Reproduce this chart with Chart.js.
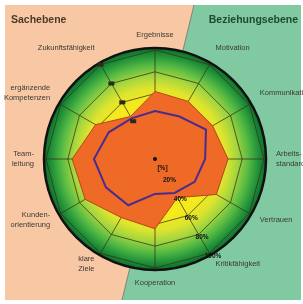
<!DOCTYPE html>
<html>
<head>
<meta charset="utf-8">
<script src="https://cdn.jsdelivr.net/npm/chart.js@4/dist/chart.umd.min.js"></script>
<style>
  html, body { margin: 0; padding: 0; background: #fff; }
  canvas { display: block; }
</style>
</head>
<body>
<canvas id="netz" width="303" height="304"></canvas>
<script>
// Achsen (im Uhrzeigersinn ab oben)
const kriterien = [
    ['Ergebnisse'], ['Motivation'], ['Kommunikation'], ['Arbeits-', 'standards'],
    ['Vertrauen'], ['Kritikfähigkeit'], ['Kooperation'], ['klare', 'Ziele'],
    ['Kunden-', 'orientierung'], ['Team-', 'leitung'], ['ergänzende', 'Kompetenzen'],
    ['Zukunftsfähigkeit']
];
// orange Fläche
const werteFlaeche = [62, 61, 61, 67, 65, 41, 64, 62, 74, 76, 63, 45];
// violette Linie
const werteLinie = [44, 45, 54, 46, 42, 36, 32, 49, 52, 56, 49, 43];
// Skalenbeschriftung
const skalaWerte = [20, 40, 60, 80, 100];
const skalaText = ['20%', '40%', '60%', '80%', '100%'];
const markenWerte = [40, 60, 80, 100];

const hintergrund = {
    id: 'hintergrund',
    beforeDraw(chart) {
        const ctx = chart.ctx;
        const s = chart.scales.r;
        ctx.save();
        ctx.fillStyle = '#ffffff';
        ctx.fillRect(0, 0, chart.width, chart.height);

        // Sachebene / Beziehungsebene
        ctx.fillStyle = '#f8c8a4';
        ctx.beginPath();
        ctx.moveTo(5, 5); ctx.lineTo(194, 5); ctx.lineTo(122, 300); ctx.lineTo(5, 300);
        ctx.closePath(); ctx.fill();
        ctx.fillStyle = '#80c9a1';
        ctx.beginPath();
        ctx.moveTo(194, 5); ctx.lineTo(301, 5); ctx.lineTo(301, 300); ctx.lineTo(122, 300);
        ctx.closePath(); ctx.fill();
        ctx.strokeStyle = '#707064';
        ctx.lineWidth = 0.8;
        ctx.beginPath(); ctx.moveTo(194, 5); ctx.lineTo(122, 300); ctx.stroke();

        ctx.font = 'bold 10.5px "Liberation Sans", Arial, sans-serif';
        ctx.textBaseline = 'middle';
        ctx.textAlign = 'left';
        ctx.fillStyle = '#4a3b2c';
        ctx.fillText('Sachebene', 11, 20);
        ctx.textAlign = 'right';
        ctx.fillStyle = '#1e4a2c';
        ctx.fillText('Beziehungsebene', 298, 20);

        // Kreis mit Farbverlauf
        const R = s.drawingArea + 2;
        const g = ctx.createRadialGradient(s.xCenter, s.yCenter, 0, s.xCenter, s.yCenter, R);
        g.addColorStop(0, '#f7e91a');
        g.addColorStop(0.52, '#f5ea1c');
        g.addColorStop(0.64, '#dfe42e');
        g.addColorStop(0.74, '#a6d63e');
        g.addColorStop(0.84, '#58bb44');
        g.addColorStop(0.93, '#22933a');
        g.addColorStop(1, '#0c6d2b');
        ctx.beginPath();
        ctx.arc(s.xCenter, s.yCenter, R, 0, Math.PI * 2);
        ctx.fillStyle = g;
        ctx.fill();
        ctx.lineWidth = 2.5;
        ctx.strokeStyle = '#111111';
        ctx.stroke();
        ctx.restore();
    },
    afterDraw(chart) {
        const ctx = chart.ctx;
        const s = chart.scales.r;
        ctx.save();

        // Achsenbeschriftung
        ctx.font = '7.5px "Liberation Sans", Arial, sans-serif';
        ctx.fillStyle = '#3a3a34';
        kriterien.forEach((zeilen, i) => {
            const p = s.getPointPosition(i, s.drawingArea + 12);
            const dx = p.x - s.xCenter;
            const dy = p.y - s.yCenter;
            if (Math.abs(dx) < 2) ctx.textAlign = 'center';
            else ctx.textAlign = dx > 0 ? 'left' : 'right';
            const h = 10;
            let y0;
            if (Math.abs(dx) < 2) y0 = dy < 0 ? p.y - (zeilen.length - 1) * h - 3 : p.y + 3;
            else y0 = p.y - (zeilen.length - 1) * h / 2 - (dy < -20 ? 6 : 0);
            ctx.textBaseline = 'middle';
            zeilen.forEach((z, k) => ctx.fillText(z, p.x, y0 + k * h));
        });

        // Prozentwerte entlang Kritikfähigkeit
        ctx.font = 'bold 6.5px "Liberation Sans", Arial, sans-serif';
        ctx.fillStyle = '#111111';
        ctx.textAlign = 'center';
        ctx.textBaseline = 'middle';
        const p0 = s.getPointPosition(5, 11);
        ctx.fillText('[%]', p0.x + 2, p0.y);
        skalaWerte.forEach((v, k) => {
            const p = s.getPointPosition(5, s.getDistanceFromCenterForValue(v) + 3);
            ctx.fillText(skalaText[k], p.x + 2, p.y);
        });
        // Marken entlang Zukunftsfähigkeit
        markenWerte.forEach(v => {
            const p = s.getPointPosition(11, s.getDistanceFromCenterForValue(v));
            ctx.fillStyle = '#2a2a1a';
            ctx.fillRect(p.x - 3, p.y - 2, 6, 4);
        });

        // Mittelpunkt
        ctx.beginPath();
        ctx.arc(s.xCenter, s.yCenter, 2, 0, Math.PI * 2);
        ctx.fillStyle = '#111111';
        ctx.fill();
        ctx.restore();
    }
};

new Chart(document.getElementById('netz'), {
    type: 'radar',
    data: {
        labels: kriterien,
        datasets: [
            {
                data: werteLinie,
                borderColor: '#4b2c8e',
                borderWidth: 2,
                backgroundColor: 'rgba(0,0,0,0)',
                fill: false,
                pointRadius: 0
            },
            {
                data: werteFlaeche,
                borderColor: '#b3471c',
                borderWidth: 1,
                backgroundColor: '#ee6a26',
                fill: true,
                pointRadius: 0
            }
        ]
    },
    options: {
        responsive: false,
        animation: false,
        devicePixelRatio: 1,
        layout: { padding: { left: 46, right: 39, top: 50, bottom: 36 } },
        plugins: {
            legend: { display: false },
            tooltip: { enabled: false }
        },
        elements: { line: { tension: 0 } },
        scales: {
            r: {
                min: 0,
                max: 100,
                z: 1,
                ticks: { display: false, stepSize: 20 },
                grid: { color: 'rgba(55,50,20,0.75)', lineWidth: 1 },
                angleLines: { color: 'rgba(55,50,20,0.75)', lineWidth: 1 },
                pointLabels: { display: false }
            }
        }
    },
    plugins: [hintergrund]
});
</script>
</body>
</html>
